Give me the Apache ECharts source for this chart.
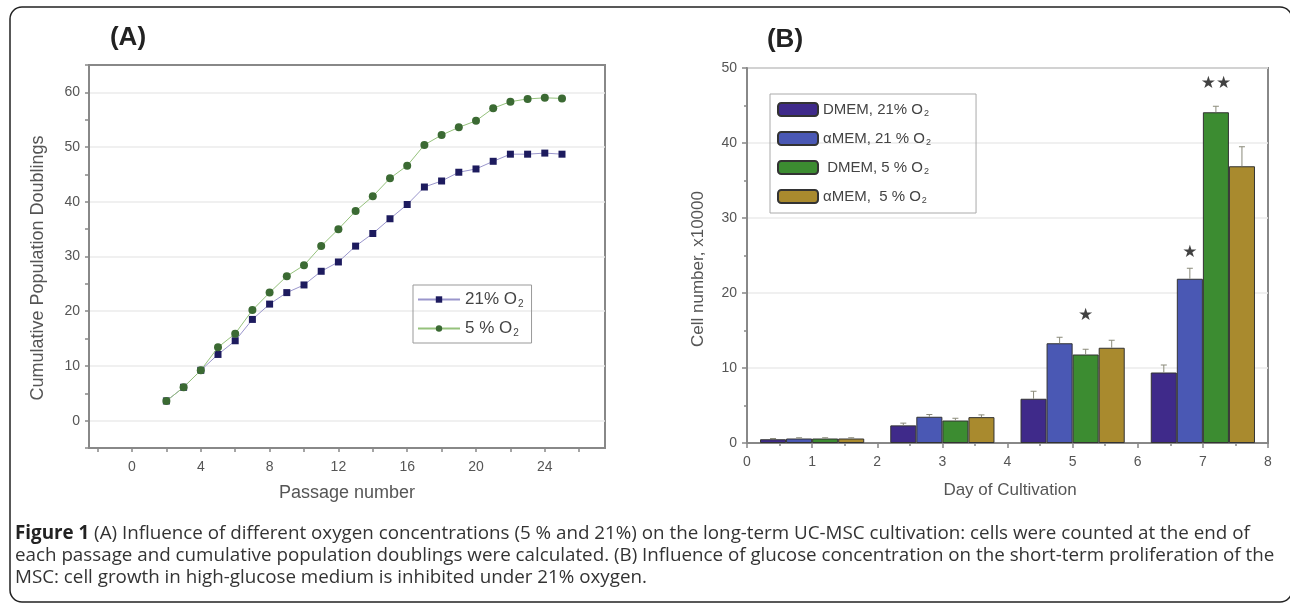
<!DOCTYPE html>
<html>
<head>
<meta charset="utf-8">
<script src="https://cdn.jsdelivr.net/npm/echarts@6/dist/echarts.min.js"></script>
<style>
  html, body { margin: 0; padding: 0; background: #fff; }
  #main { width: 1290px; height: 604px; }
</style>
</head>
<body>
<div id="main"></div>
<script>
// panel A: cumulative population doublings per passage
const passage = [2,3,4,5,6,7,8,9,10,11,12,13,14,15,16,17,18,19,20,21,22,23,24,25];
const pd21 = [3.6,6.1,9.2,12.1,14.6,18.5,21.3,23.4,24.8,27.3,29.0,31.9,34.2,36.9,39.5,42.7,43.8,45.4,46.0,47.4,48.7,48.7,48.9,48.7];
const pd5  = [3.6,6.1,9.2,13.4,15.9,20.2,23.4,26.4,28.4,31.9,35.0,38.3,41.0,44.3,46.6,50.4,52.2,53.6,54.8,57.1,58.3,58.8,59.0,58.9];
const passageTicks = [-2,0,2,4,6,8,10,12,14,16,18,20,22,24,26];
const passageLabels = [0,4,8,12,16,20,24];

// panel B: cell number (x10000) per day
const days = [1,3,5,7];
const dmem21 = [0.5, 2.35, 5.9, 9.4];
const amem21 = [0.6, 3.5, 13.3, 21.9];
const dmem5  = [0.6, 3.0, 11.8, 44.1];
const amem5  = [0.6, 3.45, 12.7, 36.9];
const errDmem21 = [0.1, 0.3, 1.0, 1.0];
const errAmem21 = [0.1, 0.3, 0.8, 1.4];
const errDmem5  = [0.1, 0.3, 0.7, 0.8];
const errAmem5  = [0.1, 0.3, 1.0, 2.6];
const starX = [5.2, 6.8, 7.2];
const starY = [17, 25.4, 47.9];
const starText = ['★', '★', '★★'];

const groupNames = ['DMEM, 21% O2', 'αMEM, 21 % O2', ' DMEM, 5 % O2', 'αMEM,  5 % O2'];
const groupColors = ['#3f2a8a', '#4a58b4', '#3c8c31', '#a98a2e'];
const groupVals = [dmem21, amem21, dmem5, amem5];
const groupErr = [errDmem21, errAmem21, errDmem5, errAmem5];
const barOffset = [-0.6, -0.2, 0.2, 0.6]; // bar centres relative to day (bar width 0.4)

const chart = echarts.init(document.getElementById('main'));

const axisCol = '#888';
const labCol = '#555';
const fontF = '"Liberation Sans", Arial, sans-serif';
const capF = '"Open Sans", sans-serif';

const errData = [];
groupVals.forEach(function (vals, k) {
  vals.forEach(function (v, i) {
    errData.push([days[i] + barOffset[k], v, v + groupErr[k][i]]);
  });
});

function renderErr(params, api) {
  const top = api.coord([api.value(0), api.value(2)]);
  const bot = api.coord([api.value(0), api.value(1)]);
  const st = { stroke: '#8a8a7a', lineWidth: 1 };
  return {
    type: 'group',
    children: [
      { type: 'line', shape: { x1: top[0], y1: top[1], x2: bot[0], y2: bot[1] }, style: st },
      { type: 'line', shape: { x1: top[0] - 3, y1: top[1], x2: top[0] + 3, y2: top[1] }, style: st }
    ]
  };
}

const subRich = {
  n: { fontSize: 17, color: '#444', fontFamily: fontF },
  s: { fontSize: 10, color: '#444', fontFamily: fontF, padding: [9, 0, 0, 1] }
};
const subRichB = {
  n: { fontSize: 15, color: '#444', fontFamily: fontF },
  s: { fontSize: 9, color: '#444', fontFamily: fontF, padding: [8, 0, 0, 1] }
};
function subFmt(name) {
  return '{n|' + name.replace(/2$/, '') + '}{s|2}';
}

const barSeries = groupVals.map(function (vals, k) {
  return {
    name: groupNames[k],
    type: 'bar',
    xAxisIndex: 1, yAxisIndex: 1,
    data: vals.map(function (v, i) { return [days[i], v]; }),
    barGap: '0%',
    barCategoryGap: '20%',
    itemStyle: { color: groupColors[k], borderColor: '#333', borderWidth: 1 },
    z: 2
  };
});

chart.setOption({
  animation: false,
  backgroundColor: '#fff',
  grid: [
    { left: 89, top: 65, width: 516, height: 383, show: true, borderColor: axisCol, borderWidth: 2, backgroundColor: '#fff' },
    { left: 747, top: 68, width: 521, height: 375, show: true, borderColor: axisCol, borderWidth: 2, backgroundColor: '#fff' }
  ],
  xAxis: [
    {
      gridIndex: 0, type: 'value', min: -2.5, max: 27.5,
      axisLine: { onZero: false, lineStyle: { color: axisCol, width: 2 } },
      axisTick: { show: true, length: 4, customValues: passageTicks, lineStyle: { color: axisCol, width: 1.5 } },
      axisLabel: { customValues: passageLabels, color: labCol, fontSize: 14, fontFamily: fontF, margin: 12 },
      splitLine: { show: false }
    },
    {
      gridIndex: 1, type: 'value', min: 0, max: 8, interval: 1,
      axisLine: { onZero: false, lineStyle: { color: axisCol, width: 2 } },
      axisTick: { length: 5, lineStyle: { color: axisCol, width: 1.5 } },
      minorTick: { show: true, splitNumber: 2, length: 3, lineStyle: { color: axisCol, width: 1.5 } },
      axisLabel: { color: labCol, fontSize: 14, fontFamily: fontF, margin: 12 },
      splitLine: { show: false }
    }
  ],
  yAxis: [
    {
      gridIndex: 0, type: 'value', min: -5, max: 65, interval: 5,
      axisLine: { show: true, onZero: false, lineStyle: { color: axisCol, width: 2 } },
      axisTick: { show: true, length: 4, lineStyle: { color: axisCol, width: 1.5 } },
      axisLabel: {
        color: labCol, fontSize: 14, fontFamily: fontF, margin: 9,
        formatter: function (v) { return (v % 10 === 0 && v >= 0 && v <= 60) ? String(v) : ''; }
      },
      splitLine: { show: true, lineStyle: { color: ['transparent', '#ebebeb'], width: 1.5 } }
    },
    {
      gridIndex: 1, type: 'value', min: 0, max: 50, interval: 10,
      axisLine: { show: true, onZero: false, lineStyle: { color: axisCol, width: 2 } },
      axisTick: { show: true, length: 5, lineStyle: { color: axisCol, width: 1.5 } },
      minorTick: { show: true, splitNumber: 2, length: 3, lineStyle: { color: axisCol, width: 1.5 } },
      axisLabel: { color: labCol, fontSize: 14, fontFamily: fontF, margin: 10 },
      splitLine: { show: true, lineStyle: { color: '#ebebeb', width: 1.5 } }
    }
  ],
  legend: [
    {
      data: ['21% O2', '5 % O2'],
      orient: 'vertical', left: 413, top: 285,
      borderColor: '#999', borderWidth: 1, padding: [6, 8, 5, 4],
      itemWidth: 42, itemHeight: 8, itemGap: 11,
      formatter: subFmt,
      textStyle: { rich: subRich }
    },
    {
      data: groupNames,
      orient: 'vertical', left: 770, top: 94,
      borderColor: '#aaa', borderWidth: 1, padding: [8, 45, 8, 7],
      itemWidth: 40, itemHeight: 13, itemGap: 13,
      formatter: subFmt,
      textStyle: { rich: subRichB }
    }
  ],
  series: [
    {
      name: '21% O2', type: 'line', xAxisIndex: 0, yAxisIndex: 0,
      data: passage.map(function (p, i) { return [p, pd21[i]]; }),
      symbol: 'rect', symbolSize: 7,
      itemStyle: { color: '#1d1b5e' },
      lineStyle: { color: '#9a96cc', width: 1 },
      z: 3
    },
    {
      name: '5 % O2', type: 'line', xAxisIndex: 0, yAxisIndex: 0,
      data: passage.map(function (p, i) { return [p, pd5[i]]; }),
      symbol: 'circle', symbolSize: 8,
      itemStyle: { color: '#3b6a33' },
      lineStyle: { color: '#95c27c', width: 1 },
      z: 4
    }
  ].concat(barSeries).concat([
    {
      type: 'custom', xAxisIndex: 1, yAxisIndex: 1,
      data: errData, renderItem: renderErr, z: 3, silent: true
    },
    {
      type: 'scatter', xAxisIndex: 1, yAxisIndex: 1,
      data: starX.map(function (x, i) { return [x, starY[i], starText[i]]; }),
      symbolSize: 1, itemStyle: { color: 'transparent' },
      label: {
        show: true, position: 'inside', color: '#111', fontSize: 17,
        fontFamily: 'DejaVu Sans', formatter: function (p) { return p.data[2]; }
      },
      z: 5
    }
  ]),
  graphic: [
    { type: 'rect', shape: { x: 10, y: 7, width: 1282, height: 595, r: 12 }, style: { fill: 'none', stroke: '#222', lineWidth: 1.5 }, z: 10 },
    { type: 'text', x: 128, y: 38, style: { text: '(A)', fontSize: 26, fontWeight: 'bold', fontFamily: fontF, fill: '#222', align: 'center', verticalAlign: 'middle' } },
    { type: 'text', x: 785, y: 40, style: { text: '(B)', fontSize: 26, fontWeight: 'bold', fontFamily: fontF, fill: '#222', align: 'center', verticalAlign: 'middle' } },
    { type: 'text', x: 38, y: 268, rotation: Math.PI / 2, style: { text: 'Cumulative Population Doublings', fontSize: 18, fontFamily: fontF, fill: '#555', align: 'center', verticalAlign: 'middle' } },
    { type: 'text', x: 347, y: 493, style: { text: 'Passage number', fontSize: 18, fontFamily: fontF, fill: '#555', align: 'center', verticalAlign: 'middle' } },
    { type: 'text', x: 698, y: 269, rotation: Math.PI / 2, style: { text: 'Cell number, x10000', fontSize: 17, fontFamily: fontF, fill: '#555', align: 'center', verticalAlign: 'middle' } },
    { type: 'text', x: 1010, y: 490, style: { text: 'Day of Cultivation', fontSize: 17, fontFamily: fontF, fill: '#555', align: 'center', verticalAlign: 'middle' } },
    { type: 'text', x: 15, y: 534, style: {
        text: '{b|Figure 1} (A) Influence of different oxygen concentrations (5 % and 21%) on the long-term UC-MSC cultivation: cells were counted at the end of',
        fontSize: 18.8, fontFamily: capF, fill: '#333', verticalAlign: 'middle',
        rich: { b: { fontSize: 18.8, fontWeight: 'bold', fontFamily: capF, fill: '#222' } } } },
    { type: 'text', x: 15, y: 556, style: {
        text: 'each passage and cumulative population doublings were calculated. (B) Influence of glucose concentration on the short-term proliferation of the',
        fontSize: 18.8, fontFamily: capF, fill: '#333', verticalAlign: 'middle' } },
    { type: 'text', x: 15, y: 578, style: {
        text: 'MSC: cell growth in high-glucose medium is inhibited under 21% oxygen.',
        fontSize: 18.8, fontFamily: capF, fill: '#333', verticalAlign: 'middle' } }
  ]
});
</script>
</body>
</html>
